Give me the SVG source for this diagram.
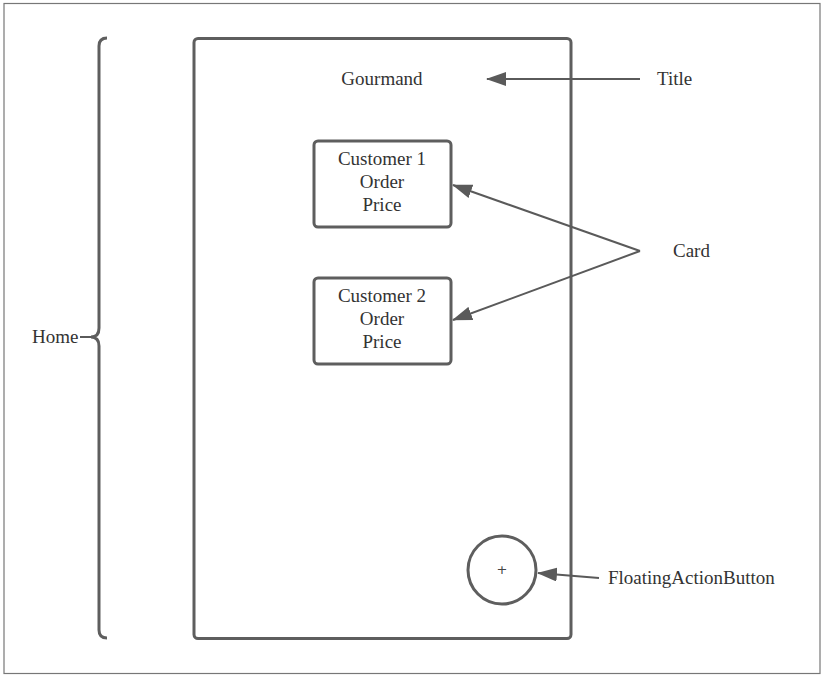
<svg xmlns="http://www.w3.org/2000/svg" width="824" height="678" viewBox="0 0 824 678">
<style>
.s{fill:none;stroke:#5e5e5e;stroke-width:3}
.c{fill:none;stroke:#5a5a5a;stroke-width:2}
.t{font-family:"Liberation Serif","Times New Roman",serif;font-size:19px;fill:#333}
.m{text-anchor:middle}
</style>
<defs>
<marker id="ah" viewBox="0 0 20 14" refX="19" refY="7" markerWidth="20" markerHeight="14" markerUnits="userSpaceOnUse" orient="auto">
<path d="M0,0 L20,7 L0,14 Z" fill="#5a5a5a"/>
</marker>
</defs>
<rect x="0" y="0" width="824" height="678" fill="#fff"/>
<rect x="4" y="3.5" width="816" height="670" fill="none" stroke="#777" stroke-width="1.2"/>
<g id="home">
<path class="s" d="M107,38 Q99,38 99,46 L99,328 Q99,337 91,337 Q99,337 99,346 L99,630 Q99,638 107,638"/>
<path class="c" d="M91,337 L80,337"/>
<text class="t" x="32" y="343">Home</text>
</g>
<g id="screen">
<rect class="s" x="194" y="38.5" width="377" height="600" rx="4"/>
</g>
<g id="gourmand"><text class="t m" x="382" y="85">Gourmand</text></g>
<g id="card1">
<rect class="s" x="314" y="141" width="137" height="86" rx="4"/>
<text class="t m" x="382" y="165">Customer 1</text>
<text class="t m" x="382" y="188">Order</text>
<text class="t m" x="382" y="211">Price</text>
</g>
<g id="card2">
<rect class="s" x="314" y="278" width="137" height="86" rx="4"/>
<text class="t m" x="382" y="302">Customer 2</text>
<text class="t m" x="382" y="325">Order</text>
<text class="t m" x="382" y="348">Price</text>
</g>
<g id="fab">
<circle class="s" cx="502" cy="570" r="34"/>
<text x="502" y="573.5" text-anchor="middle" style="font-family:'DejaVu Sans',sans-serif;font-size:13px;fill:#444">+</text>
</g>
<g id="title-label"><text class="t" x="657" y="85">Title</text></g>
<g id="card-label"><text class="t" x="673" y="257">Card</text></g>
<g id="fab-label"><text class="t" x="608" y="584">FloatingActionButton</text></g>
<g id="connectors">
<path class="c" d="M640,79 L487,79" marker-end="url(#ah)"/>
<path class="c" d="M640,251 L453,185" marker-end="url(#ah)"/>
<path class="c" d="M640,251 L453,320" marker-end="url(#ah)"/>
<path class="c" d="M599,578 L538,573" marker-end="url(#ah)"/>
</g>
</svg>
